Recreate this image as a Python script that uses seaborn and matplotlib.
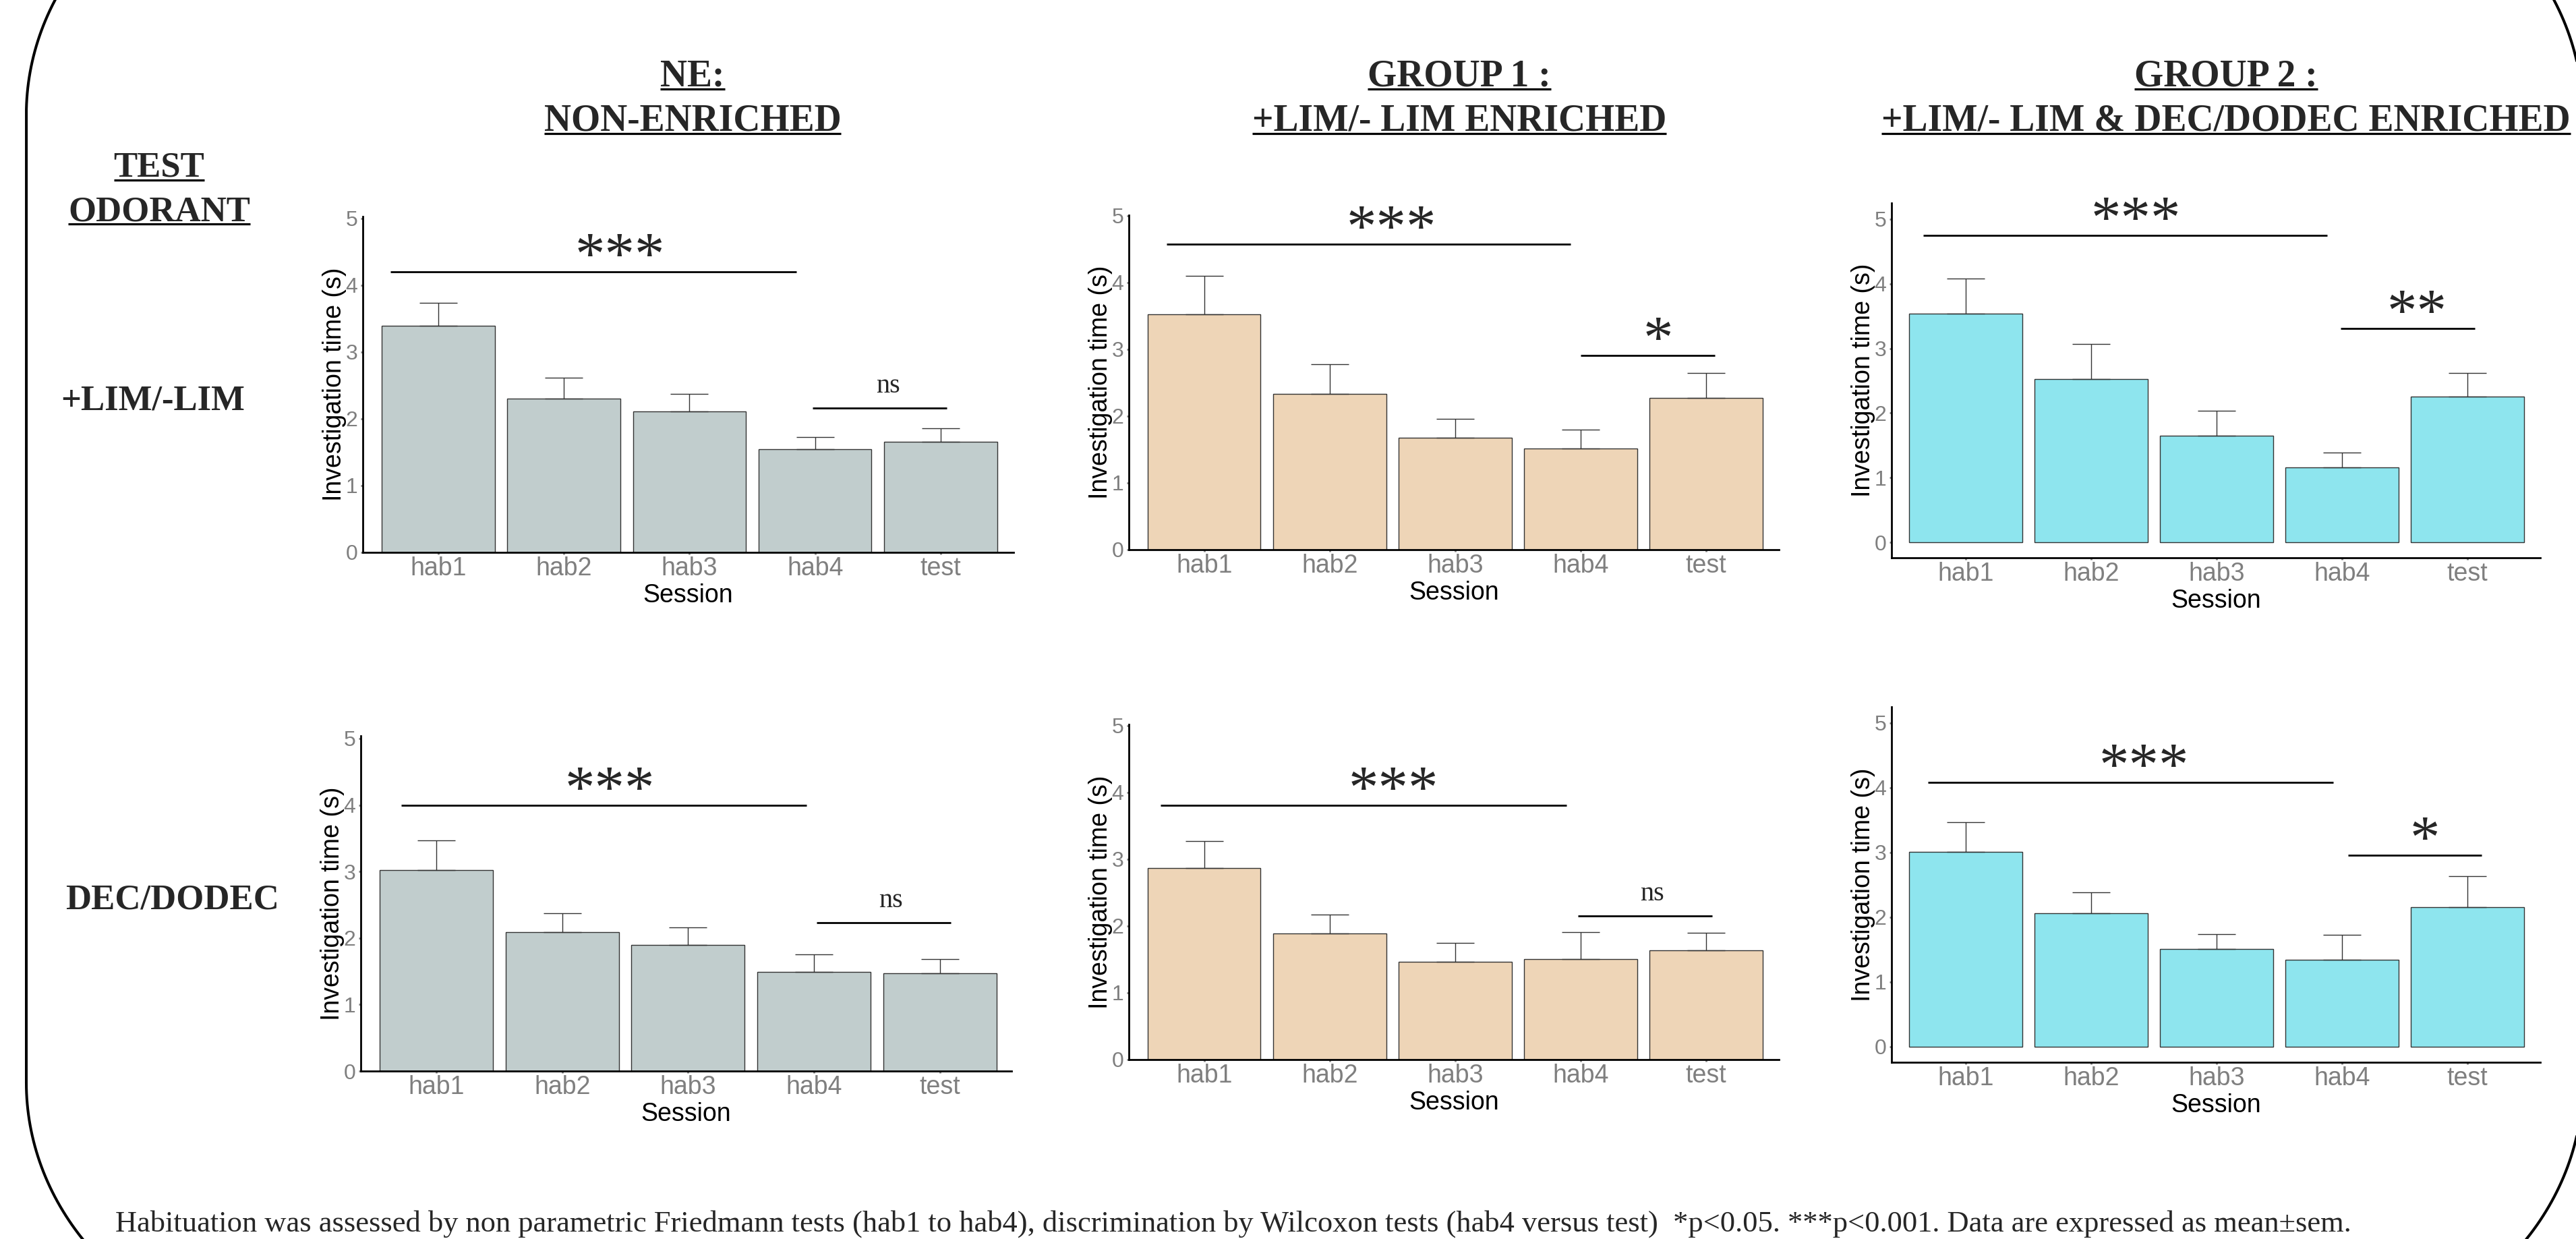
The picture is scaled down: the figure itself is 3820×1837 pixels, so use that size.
import numpy as np
import matplotlib
matplotlib.use("Agg")
import matplotlib.pyplot as plt
import seaborn as sns
from matplotlib.lines import Line2D

# ---------------------------------------------------------------- data
sessions = ["hab1", "hab2", "hab3", "hab4", "test"]

# mean investigation time (s) and s.e.m. per session
ne_lim_mean = [3.39, 2.30, 2.11, 1.55, 1.66]
ne_lim_sem = [0.35, 0.32, 0.26, 0.18, 0.20]
g1_lim_mean = [3.53, 2.33, 1.68, 1.52, 2.27]
g1_lim_sem = [0.57, 0.45, 0.28, 0.28, 0.38]
g2_lim_mean = [3.54, 2.53, 1.65, 1.16, 2.25]
g2_lim_sem = [0.54, 0.54, 0.39, 0.23, 0.37]

ne_dec_mean = [3.02, 2.09, 1.90, 1.49, 1.47]
ne_dec_sem = [0.45, 0.28, 0.26, 0.26, 0.21]
g1_dec_mean = [2.87, 1.89, 1.46, 1.51, 1.64]
g1_dec_sem = [0.40, 0.28, 0.29, 0.40, 0.26]
g2_dec_mean = [3.01, 2.06, 1.51, 1.34, 2.16]
g2_dec_sem = [0.46, 0.33, 0.23, 0.39, 0.48]

# significance brackets: (height, x start, x end, label, label x)
ne_lim_sig = [(4.20, -0.38, 2.85, "***", 1.45), (2.16, 2.98, 4.05, "ns", 3.58)]
g1_lim_sig = [(4.58, -0.30, 2.92, "***", 1.49), (2.91, 3.00, 4.07, "*", 3.62)]
g2_lim_sig = [(4.75, -0.34, 2.88, "***", 1.36), (3.31, 2.99, 4.06, "**", 3.60)]
ne_dec_sig = [(4.00, -0.28, 2.94, "***", 1.38), (2.23, 3.02, 4.09, "ns", 3.61)]
g1_dec_sig = [(3.81, -0.35, 2.89, "***", 1.51), (2.15, 2.98, 4.05, "ns", 3.57)]
g2_dec_sig = [(4.08, -0.30, 2.93, "***", 1.42), (2.96, 3.05, 4.11, "*", 3.66)]

column_titles = [("NE:", "NON-ENRICHED"),
                 ("GROUP 1 :", "+LIM/- LIM ENRICHED"),
                 ("GROUP 2 :", "+LIM/- LIM & DEC/DODEC ENRICHED")]
row_header = ("TEST", "ODORANT")
row_labels = ["+LIM/-LIM", "DEC/DODEC"]
footer = ("Habituation was assessed by non parametric Friedmann tests (hab1 to hab4), "
          "discrimination by Wilcoxon tests (hab4 versus test)  *p<0.05. ***p<0.001. "
          "Data are expressed as mean\u00b1sem.")

ne_color = "#C1CDCD"
g1_color = "#EED5B7"
g2_color = "#8EE5EE"

# ---------------------------------------------------------------- style
sns.set_style("ticks")
plt.rcParams["font.family"] = ["Liberation Sans", "DejaVu Sans"]
SERIF = ["Liberation Serif", "DejaVu Serif"]

W, H = 3820, 1837
fig = plt.figure(figsize=(W / 100, H / 100), dpi=100)
fig.patch.set_facecolor("white")


def fx(px):
    return px / W


def fy(py):
    return 1 - py / H


# panel boxes in pixels: left, right, top, bottom
panels = [
    dict(mean=ne_lim_mean, sem=ne_lim_sem, sig=ne_lim_sig, color=ne_color,
         box=(538, 1503, 321, 819), ylim=(0, 5.03), xlim=(-0.6, 4.58)),
    dict(mean=g1_lim_mean, sem=g1_lim_sem, sig=g1_lim_sig, color=g1_color,
         box=(1674, 2638, 319, 815), ylim=(0, 5.01), xlim=(-0.6, 4.58)),
    dict(mean=g2_lim_mean, sem=g2_lim_sem, sig=g2_lim_sig, color=g2_color,
         box=(2805, 3767, 301, 827), ylim=(-0.24, 5.25), xlim=(-0.59, 4.58)),
    dict(mean=ne_dec_mean, sem=ne_dec_sem, sig=ne_dec_sig, color=ne_color,
         box=(535, 1500, 1091, 1588), ylim=(0, 5.04), xlim=(-0.6, 4.57)),
    dict(mean=g1_dec_mean, sem=g1_dec_sem, sig=g1_dec_sig, color=g1_color,
         box=(1674, 2638, 1074, 1571), ylim=(0, 5.02), xlim=(-0.6, 4.58)),
    dict(mean=g2_dec_mean, sem=g2_dec_sem, sig=g2_dec_sig, color=g2_color,
         box=(2805, 3767, 1048, 1575), ylim=(-0.24, 5.25), xlim=(-0.59, 4.58)),
]

for p in panels:
    l, r, t, b = p["box"]
    ax = fig.add_axes([fx(l), fy(b), (r - l) / W, (b - t) / H])
    sns.barplot(x=sessions, y=p["mean"], color=p["color"], saturation=1,
                width=0.9, edgecolor="#333333", linewidth=1.0,
                errorbar=None, ax=ax)
    xs = np.arange(len(sessions))
    ax.errorbar(xs, p["mean"], yerr=[np.zeros(len(xs)), p["sem"]], fmt="none",
                ecolor="#333333", elinewidth=1.0, capsize=20, capthick=1.0)

    for (yy, x0, x1, lab, lx) in p["sig"]:
        ax.plot([x0, x1], [yy, yy], color="black", lw=2.0,
                solid_capstyle="butt")
        if lab == "ns":
            ax.text(lx, yy + 0.23, lab, ha="center", va="baseline",
                    fontsize=29, family=SERIF)
        else:
            ax.text(lx, yy - 0.02, lab, ha="center", va="baseline",
                    fontsize=64, family=SERIF)

    ax.set_xlim(*p["xlim"])
    ax.set_ylim(*p["ylim"])
    ax.set_yticks(range(6))
    for side in ("top", "right"):
        ax.spines[side].set_visible(False)
    for side in ("left", "bottom"):
        ax.spines[side].set_color("black")
        ax.spines[side].set_linewidth(2.0)
    ax.tick_params(axis="x", labelsize=27, colors="#7f7f7f", length=2.5,
                   width=2.0, pad=2)
    ax.tick_params(axis="y", labelsize=23, colors="#7f7f7f", length=2.5,
                   width=2.0, pad=3)

    ax.set_xlabel("Session", fontsize=27, color="black")
    ax.xaxis.set_label_coords(0.5, -74 / (b - t))
    ax.xaxis.label.set_va("baseline")
    ax.set_ylabel("Investigation time (s)", fontsize=27, color="black")
    ax.yaxis.set_label_coords(-42 / (r - l), 0.5)
    ax.yaxis.label.set_va("center")

# ---------------------------------------------------------------- headings
underlined = []
title_x = [1027, 2164, 3301]
for cx, (line1, line2) in zip(title_x, column_titles):
    t1 = fig.text(fx(cx), fy(127), line1, ha="center", va="baseline",
                  fontsize=40, fontweight="bold", family=SERIF)
    t2 = fig.text(fx(cx), fy(193), line2, ha="center", va="baseline",
                  fontsize=40, fontweight="bold", family=SERIF)
    underlined += [(t1, 127), (t2, 193)]

h1 = fig.text(fx(236), fy(262), row_header[0], ha="center", va="baseline",
              fontsize=38, fontweight="bold", family=SERIF)
h2 = fig.text(fx(236), fy(327), row_header[1], ha="center", va="baseline",
              fontsize=38, fontweight="bold", family=SERIF)
underlined += [(h1, 262), (h2, 327)]

fig.text(fx(227), fy(607), row_labels[0], ha="center", va="baseline",
         fontsize=38, fontweight="bold", family=SERIF)
fig.text(fx(255), fy(1347), row_labels[1], ha="center", va="baseline",
         fontsize=38, fontweight="bold", family=SERIF)

fig.text(fx(171), fy(1826), footer, ha="left", va="baseline",
         fontsize=32, family=SERIF)

# underline the headings
fig.canvas.draw()
renderer = fig.canvas.get_renderer()
for txt, base in underlined:
    bb = txt.get_window_extent(renderer)
    yline = fy(base + 5)
    fig.add_artist(Line2D([bb.x0 / fig.bbox.width, bb.x1 / fig.bbox.width],
                          [yline, yline], transform=fig.transFigure,
                          color="black", lw=2.3, solid_capstyle="butt"))

# ---------------------------------------------------------------- rounded frame
L, R, T, B = 39, 3830, 170, 1605
rx, ry = 450, 400
tt = np.linspace(0, np.pi / 2, 80)
xs_f = np.concatenate([
    [L],
    L + rx - rx * np.cos(tt),
    R - rx + rx * np.sin(tt),
    R - rx + rx * np.cos(tt),
    L + rx - rx * np.sin(tt),
])
ys_f = np.concatenate([
    [B],
    T - ry * np.sin(tt),
    T - ry * np.cos(tt),
    B + ry * np.sin(tt),
    B + ry * np.cos(tt),
])
fig.add_artist(Line2D(fx(xs_f), fy(ys_f), transform=fig.transFigure,
                      color="black", lw=2.9, solid_joinstyle="round"))

fig.savefig("out.png", dpi=100, facecolor="white")
